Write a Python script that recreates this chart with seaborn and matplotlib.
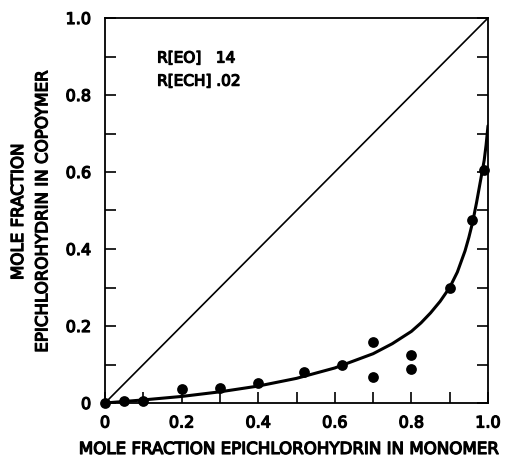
import matplotlib
matplotlib.use("Agg")
import matplotlib.pyplot as plt
import matplotlib.patheffects as pe
import seaborn as sns
from matplotlib.ticker import MultipleLocator, FixedFormatter, FixedLocator

# Data
monomer_x = [0.0, 0.05, 0.10, 0.20, 0.30, 0.40, 0.52, 0.62, 0.70, 0.70, 0.80, 0.80, 0.90, 0.957, 0.99]
copolymer_y = [0.0, 0.005, 0.005, 0.036, 0.040, 0.052, 0.081, 0.098, 0.159, 0.068, 0.124, 0.089, 0.300, 0.475, 0.604]

curve_x = [0.0, 0.05, 0.10, 0.20, 0.30, 0.40, 0.50, 0.60, 0.70, 0.75, 0.80, 0.825, 0.85, 0.875, 0.90, 0.92, 0.94, 0.95, 0.96, 0.97, 0.98, 0.99, 0.995, 1.0]
curve_y = [0.0, 0.004, 0.008, 0.017, 0.029, 0.044, 0.064, 0.091, 0.128, 0.154, 0.186, 0.208, 0.234, 0.264, 0.300, 0.340, 0.395, 0.430, 0.470, 0.520, 0.575, 0.630, 0.670, 0.72]

diag_x = [0.0, 1.0]
diag_y = [0.0, 1.0]

tick_labels = ["0", "0.2", "0.4", "0.6", "0.8", "1.0"]
annot_lines = ["R[EO]   14", "R[ECH] .02"]

sns.set_style("ticks")
plt.rcParams['font.family'] = ['DejaVu Sans']
plt.rcParams['text.color'] = 'black'
plt.rcParams['axes.labelcolor'] = 'black'
plt.rcParams['xtick.color'] = 'black'
plt.rcParams['ytick.color'] = 'black'

thick = [pe.withStroke(linewidth=0.9, foreground="black")]

fig = plt.figure(figsize=(5.07, 4.58), dpi=100)
ax = fig.add_axes([105/507, 1 - 403/458, 383/507, 385/458])

sns.lineplot(x=diag_x, y=diag_y, ax=ax, color="black", lw=1.2)
sns.lineplot(x=curve_x, y=curve_y, ax=ax, color="black", lw=2.2, sort=False)
sns.scatterplot(x=monomer_x, y=copolymer_y, ax=ax, color="black", s=60,
                edgecolor="black", linewidth=0, zorder=5, clip_on=False)

ax.set_xlim(0, 1)
ax.set_ylim(0, 1)

ax.xaxis.set_major_locator(FixedLocator([0, 0.2, 0.4, 0.6, 0.8, 1.0]))
ax.yaxis.set_major_locator(FixedLocator([0, 0.2, 0.4, 0.6, 0.8, 1.0]))
ax.xaxis.set_major_formatter(FixedFormatter(tick_labels))
ax.yaxis.set_major_formatter(FixedFormatter(tick_labels))
ax.xaxis.set_minor_locator(MultipleLocator(0.1))
ax.yaxis.set_minor_locator(MultipleLocator(0.1))

ax.tick_params(axis="both", which="both", direction="in", length=8, width=1.2,
               color="black", top=False, right=True)
ax.tick_params(axis="both", which="major", labelsize=11.5)
ax.tick_params(axis="x", which="major", pad=9)
ax.tick_params(axis="y", which="major", pad=10)
for lab in ax.get_xticklabels() + ax.get_yticklabels():
    lab.set_path_effects(thick)

for sp in ax.spines.values():
    sp.set_linewidth(1.3)
    sp.set_color("black")

xl = ax.set_xlabel("MOLE FRACTION EPICHLOROHYDRIN IN MONOMER", fontsize=12)
yl = ax.set_ylabel("MOLE FRACTION\nEPICHLOROHYDRIN IN COPOYMER", fontsize=12,
                   linespacing=1.45)
xl.set_path_effects(thick)
yl.set_path_effects(thick)
ax.xaxis.set_label_coords(0.478, -0.096)
ax.yaxis.set_label_coords(-0.14, 0.496)

t1 = ax.text(0.136, 0.896, annot_lines[0], transform=ax.transAxes, fontsize=11,
             va="center", ha="left")
t2 = ax.text(0.136, 0.836, annot_lines[1], transform=ax.transAxes, fontsize=11,
             va="center", ha="left")
t1.set_path_effects(thick)
t2.set_path_effects(thick)

fig.savefig("out.png", dpi=100)
